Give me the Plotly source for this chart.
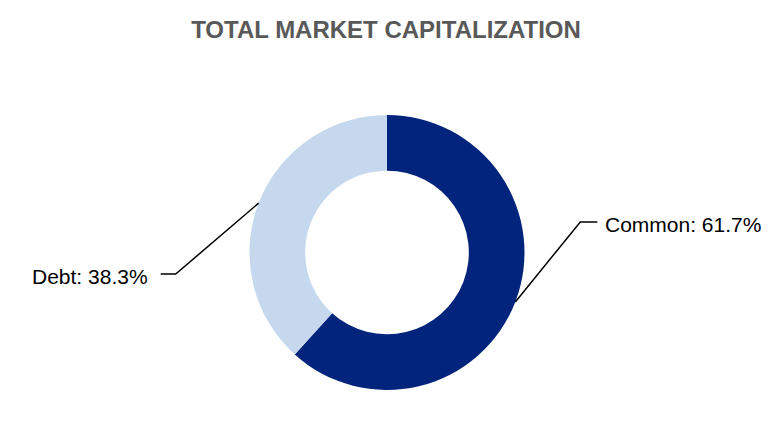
import math
import plotly.graph_objects as go

labels = ['Common', 'Debt']
values = [61.7, 38.3]
colors = ['#03247C', '#C5D8EE']

W, H = 774, 448
PAGE = 8                    # page margin around the plot div
cx, cy, R = 387 - PAGE, 252.5 - PAGE, 137.5   # donut centre and radius, px

# leader line elbow offset, horizontal tail length and text gap (px), right / left side
ELBOW = {1: (65, -80), -1: (-83, 71)}
TAIL = {1: 17, -1: 15}
GAP = {1: 7, -1: 12}

def px_x(x):
    return x / W

def px_y(y):
    return 1 - y / H

fig = go.Figure(go.Pie(
    labels=labels,
    values=values,
    hole=0.595,
    sort=False,
    direction='clockwise',
    rotation=0,
    marker=dict(colors=colors, line=dict(width=0)),
    textinfo='none',
    hoverinfo='label+percent',
    domain=dict(x=[px_x(cx - R), px_x(cx + R)], y=[px_y(cy + R), px_y(cy - R)]),
    showlegend=False,
))

# leader lines + labels, anchored at the middle of each slice
total = sum(values)
start = 0
shapes = []
annotations = []
for lab, val in zip(labels, values):
    mid = (start + val / 2) / total * 2 * math.pi
    start += val
    ax = cx + R * math.sin(mid)
    ay = cy - R * math.cos(mid)
    side = 1 if math.sin(mid) >= 0 else -1
    ex = ax + ELBOW[side][0]
    ey = ay + ELBOW[side][1]
    hx = ex + side * TAIL[side]
    shapes.append(dict(type='path', xref='paper', yref='paper',
                       path='M %f,%f L %f,%f L %f,%f' % (px_x(ax), px_y(ay), px_x(ex), px_y(ey), px_x(hx), px_y(ey)),
                       line=dict(color='black', width=1.5)))
    annotations.append(dict(x=px_x(hx + side * GAP[side]), y=px_y(ey + 2.5), xref='paper', yref='paper',
                            text='%s: %.1f%%' % (lab, val / total * 100), showarrow=False,
                            xanchor='left' if side > 0 else 'right', yanchor='middle', borderpad=0,
                            font=dict(family='Liberation Sans, Arial', size=21, color='black')))

fig.update_layout(
    width=W, height=H,
    margin=dict(l=0, r=0, t=0, b=0),
    paper_bgcolor='white',
    title=dict(text='<b>TOTAL MARKET CAPITALIZATION</b>', x=px_x(386 - PAGE), xanchor='center',
               y=px_y(30 - PAGE), yanchor='middle',
               font=dict(family='Liberation Sans, Arial', size=24, color='#595959')),
    shapes=shapes,
    annotations=annotations,
)

fig.write_html('out.html')
